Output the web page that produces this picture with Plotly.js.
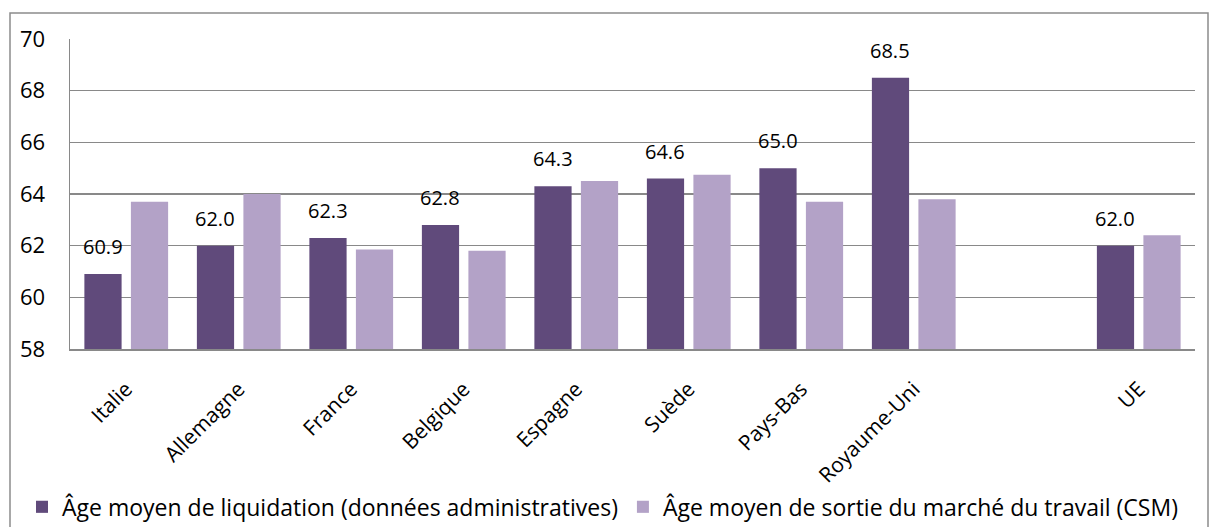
<!DOCTYPE html>
<html>
<head>
<meta charset="utf-8">
<script src="https://cdn.plot.ly/plotly-3.0.1.min.js"></script>
<style>html,body{margin:0;padding:0;background:#fff;}#chart{width:1209px;height:527px;}</style>
</head>
<body>
<div id="chart"></div>
<script>
const categories = ["Italie", "Allemagne", "France", "Belgique", "Espagne", "Suède", "Pays-Bas", "Royaume-Uni", " ", "UE"];
const liquidation = [60.9, 62.0, 62.3, 62.8, 64.3, 64.6, 65.0, 68.5, null, 62.0];
const sortieCSM = [63.7, 64.0, 61.85, 61.8, 64.5, 64.75, 63.7, 63.8, null, 62.4];
const seriesNames = ["Âge moyen de liquidation (données administratives)", "Âge moyen de sortie du marché du travail (CSM)"];
const yTicks = [58, 60, 62, 64, 66, 68, 70];

const FONT = "Open Sans, Noto Sans, sans-serif";

const traces = [
  {type: "bar", name: seriesNames[0], x: categories, y: liquidation, marker: {color: "#604A7B"}, hoverinfo: "skip"},
  {type: "bar", name: seriesNames[1], x: categories, y: sortieCSM, marker: {color: "#B3A2C7"}, hoverinfo: "skip"}
];

const annotations = [];
categories.forEach((c, i) => {
  if (liquidation[i] === null) return;
  annotations.push({
    x: c, y: liquidation[i], xref: "x", yref: "y",
    text: liquidation[i].toFixed(1), showarrow: false,
    xshift: -23.5, yanchor: "bottom", yshift: 12,
    font: {family: FONT, size: 20, color: "#000"}
  });
});

const layout = {
  width: 1209, height: 527,
  margin: {l: 70, r: 14, t: 39, b: 178, pad: 0, autoexpand: false},
  paper_bgcolor: "#fff", plot_bgcolor: "#fff",
  barmode: "group", bargap: 0.173, bargroupgap: 0.2,
  font: {family: FONT, color: "#000"},
  showlegend: true,
  legend: {
    orientation: "h", x: (22 - 70) / 1125, xanchor: "left", y: -0.44, yanchor: "top",
    font: {family: FONT, size: 23, color: "#000"}, bgcolor: "rgba(0,0,0,0)",
    itemwidth: 30, tracegroupgap: 0, traceorder: "normal"
  },
  xaxis: {
    type: "category", categoryorder: "array", categoryarray: categories,
    tickangle: -45, tickfont: {family: FONT, size: 21, color: "#000"},
    showline: true, linecolor: "#898989", linewidth: 1.5,
    showgrid: false, ticks: "", zeroline: false, ticklabelstandoff: 18
  },
  yaxis: {
    range: [58, 70], tickvals: yTicks, ticktext: yTicks.map(String),
    tickfont: {family: FONT, size: 22, color: "#000"},
    showline: true, linecolor: "#898989", linewidth: 1.5,
    showgrid: true, gridcolor: "#898989", gridwidth: 1.5,
    ticks: "", ticklabelstandoff: 19, zeroline: false
  },
  annotations: annotations,
  shapes: [
    {type: "rect", xref: "paper", yref: "paper",
     x0: (10 - 70) / 1125, x1: (1208 - 70) / 1125,
     y0: (349 - 540) / 310, y1: (349 - 13) / 310,
     line: {color: "#8c8c8c", width: 1.5}, fillcolor: "rgba(0,0,0,0)", layer: "below"}
  ]
};

Plotly.newPlot("chart", traces, layout, {displayModeBar: false, staticPlot: true});
</script>
</body>
</html>
